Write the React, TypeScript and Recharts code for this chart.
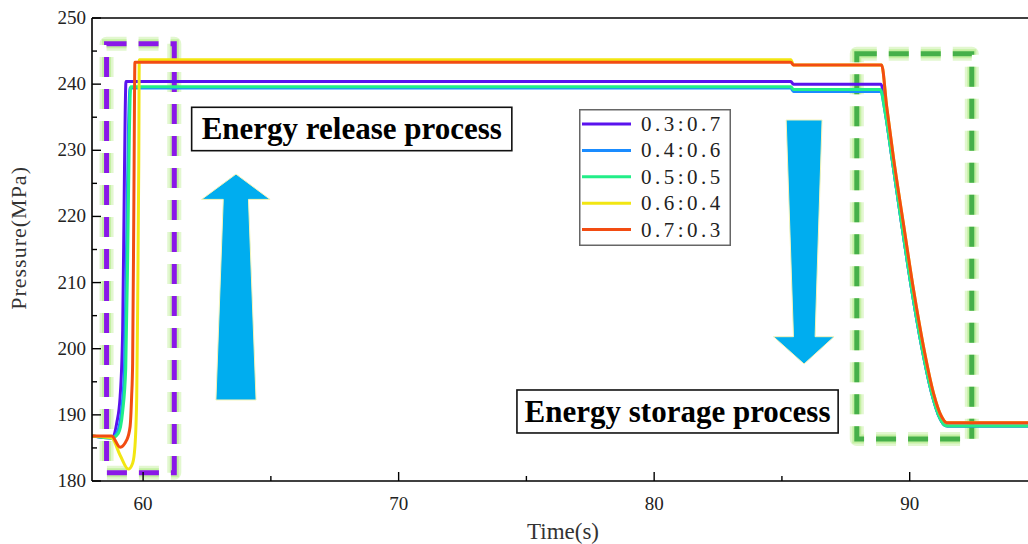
import React from 'react';
import { LineChart, Line, XAxis, YAxis, ReferenceArea, Legend } from 'recharts';

// ---- data ----
const T_A = [58, 58.77, 58.97, 59.10, 59.20, 59.26, 59.30, 59.33, 85.35, 85.45, 88.88, 89.05, 89.3, 89.68, 90.08, 90.47, 90.86, 91.18, 91.38, 91.6, 94.63];
const P_A = [186.8, 186.5, 188.8, 192.7, 202.8, 223.0, 236.0, 240.4, 240.4, 240.0, 240.0, 235.8, 229.0, 219.0, 208.9, 200.3, 193.3, 189.5, 188.4, 188.3, 188.3];

const T_B = [58, 58.77, 59.0, 59.15, 59.27, 59.35, 59.42, 59.46, 59.49, 85.35, 85.45, 88.85, 89.05, 89.3, 89.68, 90.08, 90.47, 90.86, 91.18, 91.38, 91.6, 94.63];
const P_B = [186.8, 186.5, 187.5, 190.5, 197.0, 215.0, 232.0, 237.8, 239.4, 239.4, 238.9, 238.9, 235.5, 229.0, 219.0, 208.9, 200.3, 193.3, 189.5, 188.4, 188.3, 188.3];

const T_C = [58, 58.77, 59.03, 59.2, 59.32, 59.4, 59.46, 59.49, 59.52, 85.35, 85.45, 88.85, 89.05, 89.3, 89.68, 90.08, 90.47, 90.86, 91.18, 91.38, 91.6, 94.63];
const P_C = [186.8, 186.5, 187.2, 190.5, 197.0, 215.0, 232.0, 237.8, 239.6, 239.6, 239.2, 239.2, 235.5, 229.0, 219.0, 208.9, 200.3, 193.3, 189.5, 188.4, 188.3, 188.3];

const T_D = [58, 58.77, 59.10, 59.42, 59.59, 59.68, 59.75, 59.79, 59.83, 59.85, 85.35, 85.45, 88.9, 89.1, 89.36, 89.75, 90.15, 90.54, 90.93, 91.25, 91.45, 91.7, 94.63];
const P_D = [186.8, 186.5, 183.9, 181.8, 182.7, 185.2, 192.7, 207.9, 228.0, 243.7, 243.7, 242.9, 242.9, 236.6, 229.0, 219.0, 208.9, 200.3, 193.3, 189.7, 188.8, 188.8, 188.8];

const T_E = [58, 58.77, 59.10, 59.36, 59.49, 59.55, 59.59, 59.64, 59.68, 85.35, 85.45, 88.9, 89.1, 89.36, 89.75, 90.15, 90.54, 90.93, 91.25, 91.45, 91.7, 94.63];
const P_E = [186.8, 186.8, 185.1, 186.2, 188.2, 192.7, 197.8, 223.0, 243.3, 243.3, 242.9, 242.9, 236.6, 229.0, 219.0, 208.9, 200.3, 193.3, 189.7, 188.8, 188.8, 188.8];

const SERIES_NAMES = ['0.3:0.7', '0.4:0.6', '0.5:0.5', '0.6:0.4', '0.7:0.3'];
const SERIES_COLORS = ['#5a12ee', '#1a8cff', '#22ee88', '#f2e612', '#f24c12'];
const SERIES_T = [T_A, T_B, T_C, T_D, T_E];
const SERIES_P = [P_A, P_B, P_C, P_D, P_E];

const X_TICKS = [60, 65, 70, 75, 80, 85, 90];
const Y_TICKS = [180, 185, 190, 195, 200, 205, 210, 215, 220, 225, 230, 235, 240, 245, 250];
const X_DOMAIN = [58, 94.63];
const Y_DOMAIN = [180, 250];

// annotation regions (data coordinates)
const RELEASE_BOX = { x1: 58.57, x2: 61.22, y1: 181.25, y2: 246.1 };
const STORAGE_BOX = { x1: 87.93, x2: 92.43, y1: 186.35, y2: 244.6 };
const UP_ARROW = { x1: 62.29, x2: 64.97, y1: 192.25, y2: 226.4 };
const DOWN_ARROW = { x1: 84.67, x2: 87.04, y1: 197.69, y2: 234.58 };
const RELEASE_LABEL = { x1: 61.9, x2: 74.43, y1: 229.94, y2: 236.5, text: 'Energy release process' };
const STORAGE_LABEL = { x1: 74.63, x2: 87.2, y1: 187.26, y2: 193.76, text: 'Energy storage process' };

const seriesData = SERIES_T.map((ts, i) => ts.map((t, j) => ({ t, p: SERIES_P[i][j] })));

const SERIF = '"Liberation Serif", "Times New Roman", serif';

const XTick = (props: any) => {
  const { x, y, payload } = props;
  const v = payload.value;
  const major = v % 10 === 0;
  return (
    <g>
      <line x1={x} x2={x} y1={y} y2={y - (major ? 9 : 5)} stroke="#000" strokeWidth={1.4} />
      {major && (
        <text x={x} y={y + 29} textAnchor="middle" fontFamily={SERIF} fontSize={19} fill="#222">
          {v}
        </text>
      )}
    </g>
  );
};

const TopTick = (props: any) => {
  const { x, y, payload } = props;
  const major = payload.value % 10 === 0;
  return <line x1={x} x2={x} y1={y} y2={y + (major ? 9 : 5)} stroke="#000" strokeWidth={1.4} />;
};

const YTick = (props: any) => {
  const { x, y, payload } = props;
  const v = payload.value;
  const major = v % 10 === 0;
  return (
    <g>
      <line x1={x} x2={x + (major ? 9 : 5)} y1={y} y2={y} stroke="#000" strokeWidth={1.4} />
      {major && (
        <text x={x - 6} y={y + 6} textAnchor="end" fontFamily={SERIF} fontSize={19} fill="#222">
          {v}
        </text>
      )}
    </g>
  );
};

const makeDashedBox = (color: string) => (props: any) => {
  const { x, y, width, height } = props;
  const common = { x, y, width, height, fill: 'none', strokeDasharray: '20 12' };
  return (
    <g>
      <rect {...common} stroke="#c6f0a0" strokeOpacity={0.5} strokeWidth={14} strokeLinejoin="round" />
      <rect {...common} stroke="#b4ec8a" strokeOpacity={0.65} strokeWidth={9} />
      <rect {...common} stroke={color} strokeWidth={5} />
    </g>
  );
};

const UpArrowShape = (props: any) => {
  const { x, y, width: w, height: h } = props;
  const pts = [
    [x + w * 0.502, y],
    [x + w, y + 25.3],
    [x + w * 0.684, y + 25.3],
    [x + w * 0.795, y + h],
    [x + w * 0.209, y + h],
    [x + w * 0.316, y + 25.3],
    [x, y + 25.3],
  ];
  return <polygon points={pts.map((p) => p.join(',')).join(' ')} fill="#00adef" stroke="#f4f4b8" strokeWidth={1} />;
};

const DownArrowShape = (props: any) => {
  const { x, y, width: w, height: h } = props;
  const hb = h - 27.3;
  const pts = [
    [x + w * 0.209, y],
    [x + w * 0.802, y],
    [x + w * 0.687, y + hb],
    [x + w, y + hb],
    [x + w * 0.505, y + h],
    [x, y + hb],
    [x + w * 0.33, y + hb],
  ];
  return <polygon points={pts.map((p) => p.join(',')).join(' ')} fill="#00adef" stroke="#f4f4b8" strokeWidth={1} />;
};

const makeTextBox = (text: string) => (props: any) => {
  const { x, y, width, height } = props;
  return (
    <g>
      <rect x={x} y={y} width={width} height={height} fill="#fff" stroke="#111" strokeWidth={1.6} />
      <text
        x={x + width / 2}
        y={y + height / 2 + 10.5}
        textAnchor="middle"
        fontFamily={SERIF}
        fontWeight="bold"
        fontSize={31}
        fill="#000"
      >
        {text}
      </text>
    </g>
  );
};

const LegendContent = (props: any) => {
  const payload = props.payload || [];
  return (
    <svg width={152} height={137} style={{ display: 'block' }}>
      <rect x={0.75} y={0.75} width={150.5} height={135.5} fill="#fff" stroke="#666" strokeWidth={1.5} />
      {payload.map((entry: any, i: number) => {
        const ry = 15 + i * 26.4;
        return (
          <g key={i}>
            <line x1={3} x2={52} y1={ry} y2={ry} stroke={entry.color} strokeWidth={3} />
            <text x={62} y={ry + 7} fontFamily={SERIF} fontSize={21} letterSpacing={3.5} fill="#222">
              {entry.value}
            </text>
          </g>
        );
      })}
    </svg>
  );
};

const YLabel = (props: any) => {
  const vb = props.viewBox || { y: 18, height: 463 };
  const cx = 26;
  const cy = vb.y + vb.height * 0.475;
  return (
    <text
      x={cx}
      y={cy}
      transform={`rotate(-90, ${cx}, ${cy})`}
      textAnchor="middle"
      fontFamily={SERIF}
      fontSize={22}
      letterSpacing={1}
      fill="#333"
    >
      Pressure(MPa)
    </text>
  );
};

const XLabel = (props: any) => {
  const vb = props.viewBox || { x: 92, width: 936, y: 481 };
  return (
    <text x={vb.x + vb.width / 2 + 3} y={539} textAnchor="middle" fontFamily={SERIF} fontSize={23} fill="#333">
      Time(s)
    </text>
  );
};

export default function App() {
  return (
    <div style={{ position: 'absolute', left: 0, top: 0, width: 1028, height: 544, background: '#fff' }}>
      <LineChart width={1028} height={544} margin={{ top: 17, right: 0, bottom: 0, left: 0 }}>
        <XAxis
          xAxisId={0}
          dataKey="t"
          type="number"
          domain={X_DOMAIN}
          ticks={X_TICKS}
          interval={0}
          allowDataOverflow
          height={63}
          tickSize={0}
          tickMargin={0}
          tick={<XTick />}
          axisLine={{ stroke: '#000', strokeWidth: 1.6 }}
          label={<XLabel />}
        />
        <XAxis
          xAxisId="top"
          orientation="top"
          type="number"
          domain={X_DOMAIN}
          ticks={X_TICKS}
          interval={0}
          allowDataOverflow
          height={1}
          tickSize={0}
          tickMargin={0}
          tick={<TopTick />}
          axisLine={{ stroke: '#000', strokeWidth: 1.6 }}
        />
        <YAxis
          type="number"
          domain={Y_DOMAIN}
          ticks={Y_TICKS}
          interval={0}
          allowDataOverflow
          width={92}
          tickSize={0}
          tickMargin={0}
          tick={<YTick />}
          axisLine={{ stroke: '#000', strokeWidth: 1.6 }}
          label={<YLabel />}
        />
        {seriesData.map((d, i) => (
          <Line
            key={SERIES_NAMES[i]}
            data={d}
            dataKey="p"
            name={SERIES_NAMES[i]}
            type="monotone"
            stroke={SERIES_COLORS[i]}
            strokeWidth={3}
            dot={false}
            activeDot={false}
            isAnimationActive={false}
          />
        ))}
        <ReferenceArea {...UP_ARROW} shape={UpArrowShape} ifOverflow="visible" />
        <ReferenceArea {...DOWN_ARROW} shape={DownArrowShape} ifOverflow="visible" />
        <ReferenceArea x1={RELEASE_LABEL.x1} x2={RELEASE_LABEL.x2} y1={RELEASE_LABEL.y1} y2={RELEASE_LABEL.y2} shape={makeTextBox(RELEASE_LABEL.text)} ifOverflow="visible" />
        <ReferenceArea x1={STORAGE_LABEL.x1} x2={STORAGE_LABEL.x2} y1={STORAGE_LABEL.y1} y2={STORAGE_LABEL.y2} shape={makeTextBox(STORAGE_LABEL.text)} ifOverflow="visible" />
        <ReferenceArea {...RELEASE_BOX} shape={makeDashedBox('#8a18e8')} ifOverflow="visible" />
        <ReferenceArea {...STORAGE_BOX} shape={makeDashedBox('#46b04a')} ifOverflow="visible" />
        <Legend
          layout="vertical"
          align="center"
          verticalAlign="middle"
          content={<LegendContent />}
          wrapperStyle={{ position: 'absolute', left: 579, top: 109, width: 152, height: 137 }}
        />
      </LineChart>
    </div>
  );
}
